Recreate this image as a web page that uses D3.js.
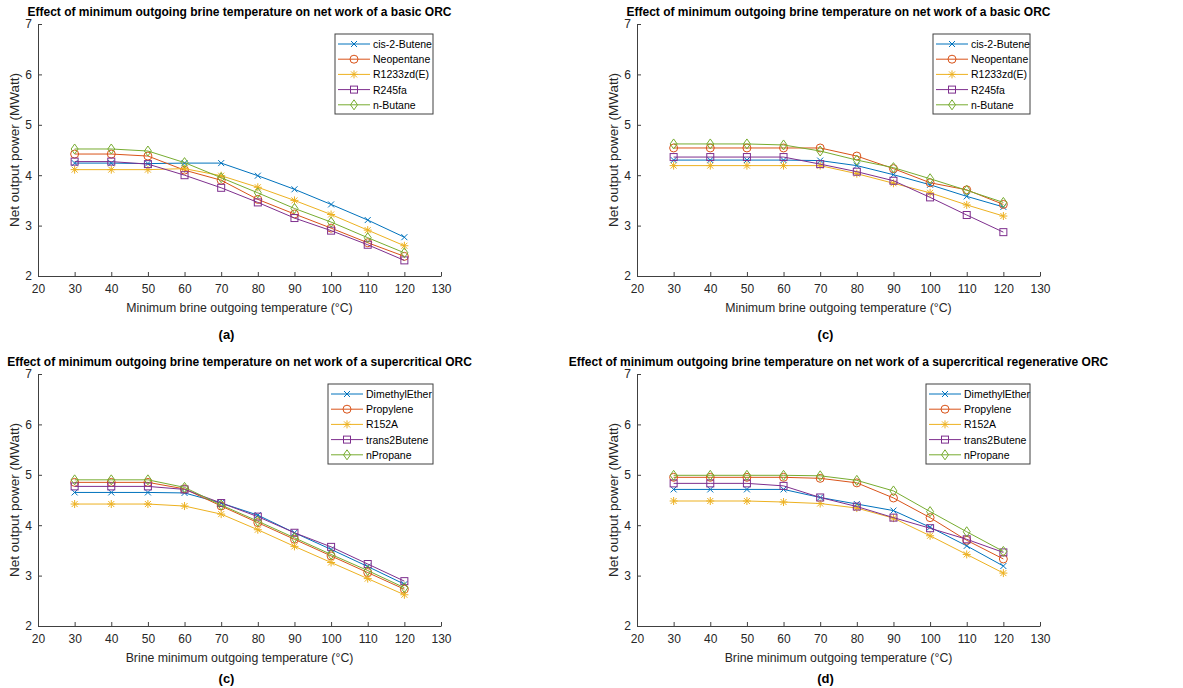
<!DOCTYPE html>
<html>
<head>
<meta charset="utf-8">
<script src="https://cdn.jsdelivr.net/npm/d3@7"></script>
<style>
  body { margin: 0; background: #fff; }
  svg text { font-family: "Liberation Sans", Arial, Helvetica, sans-serif; }
</style>
</head>
<body>
<div id="chart"></div>
<script>
// brine outgoing temperature (°C)
const temps = [30, 40, 50, 60, 70, 80, 90, 100, 110, 120];
const xTicks = [20, 30, 40, 50, 60, 70, 80, 90, 100, 110, 120, 130];
const yTicks = [2, 3, 4, 5, 6, 7];

// (a) basic ORC
const basicNames = ["cis-2-Butene", "Neopentane", "R1233zd(E)", "R245fa", "n-Butane"];
const basicA = [
  [4.24, 4.24, 4.23, 4.24, 4.24, 3.99, 3.72, 3.42, 3.11, 2.77],
  [4.42, 4.42, 4.38, 4.10, 3.90, 3.52, 3.23, 2.95, 2.66, 2.39],
  [4.11, 4.11, 4.11, 4.13, 3.99, 3.76, 3.50, 3.22, 2.91, 2.60],
  [4.27, 4.27, 4.22, 4.00, 3.75, 3.46, 3.15, 2.90, 2.62, 2.31],
  [4.52, 4.52, 4.48, 4.25, 3.95, 3.65, 3.34, 3.07, 2.76, 2.46]
];
// (c) basic ORC, second case
const basicC = [
  [4.30, 4.30, 4.30, 4.30, 4.29, 4.19, 4.01, 3.81, 3.58, 3.37],
  [4.54, 4.54, 4.54, 4.54, 4.54, 4.38, 4.13, 3.85, 3.71, 3.42],
  [4.19, 4.19, 4.19, 4.19, 4.19, 4.03, 3.84, 3.65, 3.41, 3.19],
  [4.36, 4.36, 4.36, 4.36, 4.22, 4.07, 3.89, 3.56, 3.21, 2.87],
  [4.62, 4.62, 4.62, 4.60, 4.48, 4.30, 4.15, 3.93, 3.70, 3.46]
];
// (c) supercritical ORC
const superNames = ["DimethylEther", "Propylene", "R152A", "trans2Butene", "nPropane"];
const superC = [
  [4.65, 4.65, 4.65, 4.64, 4.44, 4.20, 3.85, 3.52, 3.18, 2.83],
  [4.85, 4.85, 4.85, 4.72, 4.38, 4.05, 3.72, 3.39, 3.06, 2.73],
  [4.42, 4.42, 4.42, 4.38, 4.22, 3.91, 3.58, 3.26, 2.94, 2.62],
  [4.77, 4.77, 4.77, 4.71, 4.44, 4.17, 3.85, 3.57, 3.23, 2.89],
  [4.90, 4.90, 4.90, 4.75, 4.40, 4.08, 3.75, 3.42, 3.10, 2.76]
];
// (d) supercritical regenerative ORC
const superD = [
  [4.71, 4.71, 4.71, 4.71, 4.55, 4.42, 4.29, 3.96, 3.59, 3.19],
  [4.95, 4.95, 4.95, 4.95, 4.93, 4.84, 4.54, 4.15, 3.70, 3.33],
  [4.48, 4.48, 4.48, 4.46, 4.43, 4.34, 4.14, 3.79, 3.42, 3.05],
  [4.83, 4.83, 4.83, 4.78, 4.55, 4.37, 4.15, 3.94, 3.72, 3.46],
  [4.99, 4.99, 4.99, 4.99, 4.98, 4.89, 4.68, 4.27, 3.87, 3.48]
];

const colors = ["#0072BD", "#D95319", "#EDB120", "#7E2F8E", "#77AC30"];
const markers = ["x", "o", "*", "s", "d"];

const panels = [
  { title: "Effect of minimum outgoing brine temperature on net work of a basic ORC",
    xlabel: "Minimum brine outgoing temperature (°C)", tag: "(a)",
    names: basicNames, series: basicA, left: 38, top: 24, legend: [335, 34, 98] },
  { title: "Effect of minimum outgoing brine temperature on net work of a basic ORC",
    xlabel: "Minimum brine outgoing temperature (°C)", tag: "(c)",
    names: basicNames, series: basicC, left: 637, top: 24, legend: [933, 34, 97] },
  { title: "Effect of minimum outgoing brine temperature on net work of a supercritical ORC",
    xlabel: "Brine minimum outgoing temperature (°C)", tag: "(c)",
    names: superNames, series: superC, left: 38, top: 374, legend: [328, 384, 105] },
  { title: "Effect of minimum outgoing brine temperature on net work of a supercritical regenerative ORC",
    xlabel: "Brine minimum outgoing temperature (°C)", tag: "(d)",
    names: superNames, series: superD, left: 637, top: 374, legend: [926, 384, 104] }
];

const W = 1183, H = 688;
const plotW = 403, plotH = 252;
const axisColor = "#404040";

const svg = d3.select("#chart").append("svg")
  .attr("width", W).attr("height", H);

// marker shapes, MATLAB-like
function drawMarker(g, type, x, y, color) {
  const s = g.append("g").attr("transform", `translate(${x},${y})`)
    .attr("fill", "none").attr("stroke", color).attr("stroke-width", 1);
  if (type === "x") {
    s.append("path").attr("d", "M-3,-3L3,3M-3,3L3,-3");
  } else if (type === "o") {
    s.append("circle").attr("r", 4);
  } else if (type === "*") {
    s.append("path").attr("d", "M-4,0L4,0M0,-4L0,4M-3,-3L3,3M-3,3L3,-3");
  } else if (type === "s") {
    s.append("rect").attr("x", -3.5).attr("y", -3.5).attr("width", 7).attr("height", 7);
  } else if (type === "d") {
    s.append("path").attr("d", "M0,-5L3.5,0L0,5L-3.5,0Z");
  }
}

panels.forEach(p => {
  const g = svg.append("g").attr("transform", `translate(${p.left},${p.top})`);
  const x = d3.scaleLinear().domain([20, 130]).range([0, plotW]);
  const y = d3.scaleLinear().domain([2, 7]).range([plotH, 0]);

  // axes, ticks pointing inward
  const xAxis = g.append("g").attr("transform", `translate(0,${plotH})`)
    .call(d3.axisBottom(x).tickValues(xTicks).tickFormat(d3.format("d"))
      .tickSizeInner(-4).tickSizeOuter(0).tickPadding(8));
  const yAxis = g.append("g")
    .call(d3.axisLeft(y).tickValues(yTicks).tickFormat(d3.format("d"))
      .tickSizeInner(-4).tickSizeOuter(0).tickPadding(6));
  [xAxis, yAxis].forEach(a => {
    a.select(".domain").attr("stroke", axisColor);
    a.selectAll(".tick line").attr("stroke", axisColor);
    a.selectAll(".tick text").attr("fill", "#262626").attr("font-size", 12)
      .style("font-family", "'Liberation Sans', Arial, sans-serif");
  });

  // series
  const line = d3.line().x((d, i) => x(temps[i])).y(d => y(d));
  p.series.forEach((vals, k) => {
    g.append("path").datum(vals)
      .attr("fill", "none").attr("stroke", colors[k]).attr("stroke-width", 1)
      .attr("d", line);
    vals.forEach((v, i) => drawMarker(g, markers[k], x(temps[i]), y(v), colors[k]));
  });

  // title
  g.append("text").attr("x", plotW / 2).attr("y", -8)
    .attr("text-anchor", "middle").attr("font-size", 12).attr("font-weight", "bold")
    .attr("fill", "#000").text(p.title);

  // axis labels
  g.append("text").attr("x", plotW / 2).attr("y", plotH + 36)
    .attr("text-anchor", "middle").attr("font-size", 12.3).attr("fill", "#262626")
    .text(p.xlabel);
  g.append("text")
    .attr("transform", `translate(-19,${plotH / 2}) rotate(-90)`)
    .attr("text-anchor", "middle").attr("font-size", 13.5).attr("fill", "#262626")
    .text("Net output power (MWatt)");

  // tag
  g.append("text").attr("x", plotW / 2 - 13).attr("y", p.top < 100 ? plotH + 63 : plotH + 57)
    .attr("text-anchor", "middle").attr("font-size", 13).attr("font-weight", "bold")
    .attr("fill", "#000").text(p.tag);

  // legend
  const [lx, ly, lw] = p.legend;
  const lg = svg.append("g").attr("transform", `translate(${lx},${ly})`);
  lg.append("rect").attr("width", lw).attr("height", 80)
    .attr("fill", "#fff").attr("stroke", axisColor).attr("stroke-width", 1);
  p.names.forEach((name, k) => {
    const ry = 10 + k * 15.2;
    lg.append("line").attr("x1", 3).attr("x2", 35).attr("y1", ry).attr("y2", ry)
      .attr("stroke", colors[k]).attr("stroke-width", 1);
    drawMarker(lg, markers[k], 19, ry, colors[k]);
    lg.append("text").attr("x", 38).attr("y", ry + 4)
      .attr("font-size", 10.5).attr("fill", "#000").text(name);
  });
});
</script>
</body>
</html>
